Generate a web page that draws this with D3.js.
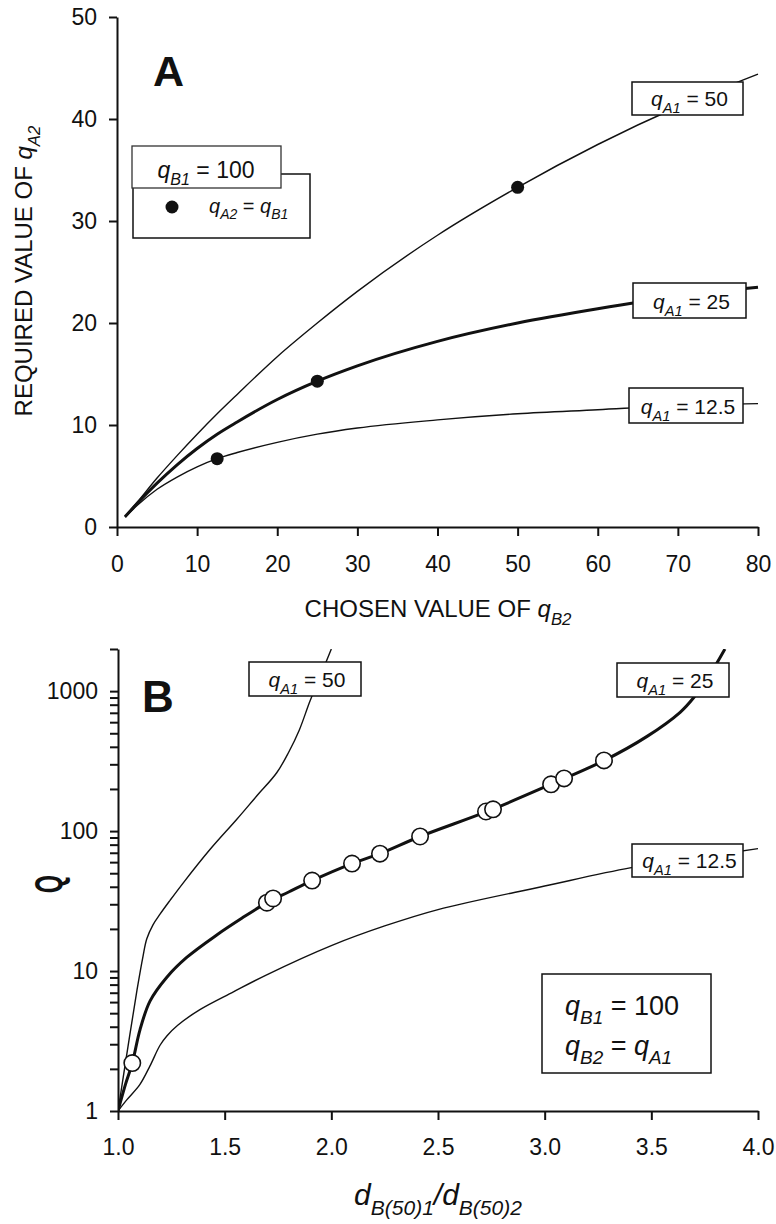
<!DOCTYPE html>
<html lang="en">
<head>
<meta charset="utf-8">
<title>Required q_A2 and Q versus d_B(50) ratio</title>
<script src="https://d3js.org/d3.v7.min.js"></script>
<style>
  body { margin: 0; background: #fff; }
  text { font-family: Arial, "Liberation Sans", sans-serif; fill: #111; }
  .axis path, .axis line { stroke: #111; stroke-width: 2; }
  .axis text { font-size: 23px; fill: #111; font-family: Arial, "Liberation Sans", sans-serif; }
</style>
</head>
<body>
<script>

// ---- Panel A data (chosen q_B2 vs required q_A2) ----
var aX = [1, 2.5, 5, 7.5, 10, 12.5, 15, 20, 25, 30, 40, 50, 60, 70, 80];
var aQ50 = [1.0, 2.4, 4.8, 7.0, 9.1, 11.1, 13.0, 16.7, 20.0, 23.1, 28.6, 33.3, 37.5, 41.2, 44.4];
var aQ25 = [1.0, 2.3, 4.3, 6.1, 7.7, 9.1, 10.3, 12.5, 14.3, 15.8, 18.2, 20.0, 21.4, 22.6, 23.5];
var aQ125 = [0.95, 2.1, 3.7, 4.9, 5.9, 6.7, 7.3, 8.3, 9.1, 9.7, 10.5, 11.1, 11.5, 11.9, 12.1];
var aDotsX = [12.5, 25, 50];
var aDotsY = [6.7, 14.3, 33.3];
var aXTicks = [0, 10, 20, 30, 40, 50, 60, 70, 80];
var aYTicks = [0, 10, 20, 30, 40, 50];

// ---- Panel B data (d_B(50)1/d_B(50)2 vs Q, log scale) ----
var bQ50 = [[1.0, 1], [1.047, 2.9], [1.089, 7.3], [1.117, 12.7], [1.135, 17.0], [1.164, 21.4],
            [1.197, 25.5], [1.244, 32], [1.306, 42.7], [1.431, 73.8], [1.556, 121], [1.650, 178],
            [1.744, 261], [1.80, 366], [1.85, 528], [1.90, 850], [1.95, 1300], [2.0, 2000]];
var bQ25 = [[1.0, 1], [1.035, 1.55], [1.067, 2.2], [1.103, 3.8], [1.15, 6.1], [1.228, 9.0],
            [1.322, 12.5], [1.463, 18.1], [1.58, 23.8], [1.698, 30.8], [1.8, 36.7], [1.91, 44.3],
            [2.097, 58.6], [2.228, 69], [2.416, 91.5], [2.74, 140], [3.03, 216], [3.28, 320],
            [3.48, 475], [3.635, 706], [3.70, 904], [3.77, 1279], [3.845, 2000]];
var bQ125 = [[1.0, 1], [1.041, 1.2], [1.103, 1.55], [1.15, 2.1], [1.197, 2.95], [1.23, 3.45],
             [1.28, 4.1], [1.384, 5.3], [1.541, 7.1], [1.697, 9.4], [2.0, 15.2], [2.25, 21.0],
             [2.5, 27.5], [3.0, 40.5], [3.4, 54.6], [3.7, 64], [4.0, 75]];
var bCircles = [[1.067, 2.2], [1.698, 30.8], [1.727, 33], [1.91, 44.3], [2.097, 58.6], [2.228, 69],
                [2.416, 91.5], [2.725, 138], [2.758, 143], [3.03, 216], [3.091, 238], [3.278, 320]];
var bXTicks = [1.0, 1.5, 2.0, 2.5, 3.0, 3.5, 4.0];
var bYMajor = [1, 10, 100, 1000];

var seriesLabels = ["50", "25", "12.5"];

// ---- Layout ----
var W = 776, H = 1224;
var svg = d3.select("body").append("svg").attr("width", W).attr("height", H);

var xA = d3.scaleLinear().domain([0, 80]).range([117, 758]);
var yA = d3.scaleLinear().domain([0, 50]).range([527, 17]);
var xB = d3.scaleLinear().domain([1, 4]).range([118, 758]);
var yB = d3.scaleLog().domain([1, 2000]).range([1111, 649]);

// rich text helper: parts = [{t, it, sub}]
function rich(parent, x, y, parts, size, anchor) {
  var t = parent.append("text").attr("x", x).attr("y", y)
    .style("font-size", size + "px").attr("text-anchor", anchor || "start");
  var shift = 0;
  parts.forEach(function(p) {
    var target = p.sub ? size * 0.32 : 0;
    var ts = t.append("tspan").text(p.t).attr("dy", target - shift);
    shift = target;
    if (p.sub) ts.style("font-size", (size * 0.7) + "px");
    if (p.it) ts.style("font-style", "italic");
  });
  return t;
}

function qLabel(letter, val) {
  return [{t: "q", it: true}, {t: letter, it: true, sub: true}, {t: " = " + val}];
}

function labelBox(x0, y0, x1, y1, parts, size) {
  svg.append("rect").attr("x", x0).attr("y", y0).attr("width", x1 - x0).attr("height", y1 - y0)
    .attr("fill", "#fff").attr("stroke", "#111").attr("stroke-width", 1.5);
  rich(svg, (x0 + x1) / 2 + 2, y1 - 9, parts, size, "middle");
}

// ================= Panel A =================
svg.append("g").attr("class", "axis")
  .attr("transform", "translate(0," + yA(0) + ")")
  .call(d3.axisBottom(xA).tickValues(aXTicks).tickSize(9).tickSizeOuter(0).tickPadding(20).tickFormat(d3.format("d")));
svg.append("g").attr("class", "axis")
  .attr("transform", "translate(" + xA(0) + ",0)")
  .call(d3.axisLeft(yA).tickValues(aYTicks).tickSize(8).tickSizeOuter(0).tickPadding(12).tickFormat(d3.format("d")));

var lineA = d3.line().x(function(d) { return xA(d[0]); }).y(function(d) { return yA(d[1]); })
  .curve(d3.curveMonotoneX);
[[aQ50, 1.4], [aQ125, 1.4], [aQ25, 3]].forEach(function(s) {
  svg.append("path").datum(aX.map(function(x, i) { return [x, s[0][i]]; }))
    .attr("d", lineA).attr("fill", "none").attr("stroke", "#111").attr("stroke-width", s[1]);
});

svg.selectAll(".dotA").data(aDotsX).enter().append("circle")
  .attr("cx", function(d) { return xA(d); })
  .attr("cy", function(d, i) { return yA(aDotsY[i]); })
  .attr("r", 6.5).attr("fill", "#111");

// curve labels
labelBox(632, 82, 743, 115, qLabel("A1", seriesLabels[0]), 21);
labelBox(633, 283, 746, 318, qLabel("A1", seriesLabels[1]), 21);
labelBox(629, 388, 743, 423, qLabel("A1", seriesLabels[2]), 21);

// legend A
svg.append("rect").attr("x", 133).attr("y", 174).attr("width", 177).attr("height", 64)
  .attr("fill", "#fff").attr("stroke", "#111").attr("stroke-width", 1.5);
svg.append("rect").attr("x", 132).attr("y", 146).attr("width", 149).attr("height", 42)
  .attr("fill", "#fff").attr("stroke", "#333").attr("stroke-width", 1.3);
rich(svg, 206, 178, qLabel("B1", "100"), 23, "middle");
svg.append("circle").attr("cx", 172).attr("cy", 207).attr("r", 6.5).attr("fill", "#111");
rich(svg, 209, 213, [{t: "q", it: true}, {t: "A2", it: true, sub: true}, {t: " = "},
  {t: "q", it: true}, {t: "B1", it: true, sub: true}], 20);

svg.append("text").attr("x", 153).attr("y", 86).style("font-size", "43px").style("font-weight", "bold").text("A");

// axis titles A
rich(svg, 438, 617, [{t: "CHOSEN VALUE OF "}, {t: "q", it: true}, {t: "B2", it: true, sub: true}], 24, "middle");
rich(svg.append("g").attr("transform", "translate(32,271) rotate(-90)"), 0, 0,
  [{t: "REQUIRED VALUE OF "}, {t: "q", it: true}, {t: "A2", it: true, sub: true}], 24, "middle");

// ================= Panel B =================
svg.append("g").attr("class", "axis")
  .attr("transform", "translate(0," + yB(1) + ")")
  .call(d3.axisBottom(xB).tickValues(bXTicks).tickSize(9).tickSizeOuter(0).tickPadding(19).tickFormat(d3.format(".1f")));

var bYTicks = [];
bYMajor.forEach(function(m) { for (var k = 1; k <= 9; k++) if (m * k <= 2000) bYTicks.push(m * k); });
svg.append("g").attr("class", "axis")
  .attr("transform", "translate(" + xB(1) + ",0)")
  .call(d3.axisLeft(yB).tickValues(bYTicks).tickSize(8).tickSizeOuter(0).tickPadding(12)
    .tickFormat(function(d) { return bYMajor.indexOf(d) >= 0 ? d : ""; }));

svg.append("clipPath").attr("id", "clipB").append("rect")
  .attr("x", xB(1)).attr("y", yB(2000)).attr("width", xB(4) - xB(1) + 10).attr("height", yB(1) - yB(2000));

var lineB = d3.line().x(function(d) { return xB(d[0]); }).y(function(d) { return yB(d[1]); })
  .curve(d3.curveCatmullRom.alpha(0.5));
var gB = svg.append("g").attr("clip-path", "url(#clipB)");
[[bQ50, 1.4], [bQ125, 1.4], [bQ25, 3]].forEach(function(s) {
  gB.append("path").datum(s[0]).attr("d", lineB)
    .attr("fill", "none").attr("stroke", "#111").attr("stroke-width", s[1]);
});

svg.selectAll(".circB").data(bCircles).enter().append("circle")
  .attr("cx", function(d) { return xB(d[0]); })
  .attr("cy", function(d) { return yB(d[1]); })
  .attr("r", 8.2).attr("fill", "#fff").attr("stroke", "#111").attr("stroke-width", 1.6);

labelBox(249, 662, 361, 696, qLabel("A1", seriesLabels[0]), 21);
labelBox(617, 663, 729, 697, qLabel("A1", seriesLabels[1]), 21);
labelBox(632, 844, 743, 877, qLabel("A1", seriesLabels[2]), 21);

// legend B
svg.append("rect").attr("x", 542).attr("y", 974).attr("width", 169).attr("height", 99)
  .attr("fill", "#fff").attr("stroke", "#111").attr("stroke-width", 1.5);
rich(svg, 565, 1015, qLabel("B1", "100"), 27);
rich(svg, 565, 1055, [{t: "q", it: true}, {t: "B2", it: true, sub: true}, {t: " = "},
  {t: "q", it: true}, {t: "A1", it: true, sub: true}], 27);

svg.append("text").attr("x", 142).attr("y", 712).style("font-size", "44px").style("font-weight", "bold").text("B");

// axis titles B
svg.append("text").attr("transform", "translate(62,884) rotate(-90) scale(0.62,1)")
  .attr("text-anchor", "middle").style("font-size", "38px").style("font-weight", "bold").text("Q");
rich(svg, 438, 1205, [{t: "d", it: true}, {t: "B(50)1", it: true, sub: true}, {t: "/", it: true},
  {t: "d", it: true}, {t: "B(50)2", it: true, sub: true}], 30, "middle");

</script>
</body>
</html>
